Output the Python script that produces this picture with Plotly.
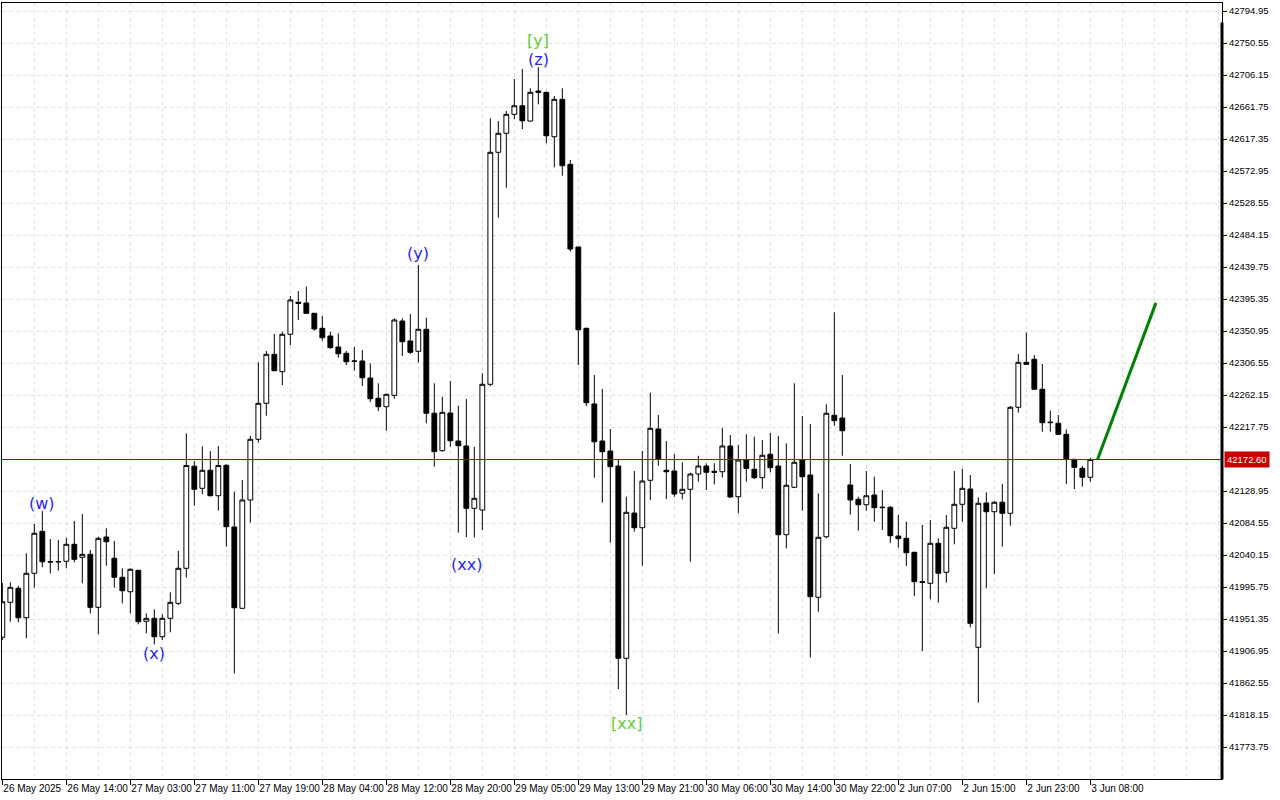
import plotly.graph_objects as go

# ---- data (H1 candles, index 0..136) ----
opens = [41926.0, 41974.5, 41993.9, 41953.1, 42014.8, 42073.0, 42030.8, 42030.5, 42031.4, 42055.0,
         42037.0, 42041.1, 41967.6, 42065.1, 42035.6, 42009.2, 41989.2, 42018.9, 41948.2, 41952.3,
         41926.8, 41952.3, 41973.1, 42021.7, 42163.4, 42132.7, 42157.7, 42122.4, 42164.6, 42079.0,
         41966.2, 42116.5, 42200.7, 42250.6, 42318.6, 42294.5, 42346.4, 42390.8, 42389.8, 42375.5,
         42354.7, 42344.0, 42328.7, 42320.0, 42308.8, 42309.3, 42285.7, 42257.6, 42245.9, 42261.7,
         42364.8, 42337.1, 42322.8, 42353.3, 42236.8, 42184.9, 42237.2, 42198.3, 42191.4, 42104.9,
         42102.6, 42277.0, 42598.9, 42625.3, 42651.6, 42663.5, 42642.3, 42683.9, 42682.1, 42620.5,
         42672.4, 42582.2, 42467.5, 42354.7, 42249.7, 42198.3, 42184.4, 42163.6, 41896.8, 42098.4,
         42078.0, 42143.8, 42215.0, 42157.7, 42156.7, 42125.8, 42131.3, 42152.5, 42163.6, 42156.3,
         42155.7, 42191.4, 42121.0, 42172.0, 42159.1, 42147.4, 42179.9, 42163.6, 42068.3, 42134.1,
         42172.0, 42151.1, 41981.5, 42065.5, 42234.0, 42230.2, 42137.3, 42117.4, 42109.9, 42123.4,
         42105.8, 42106.3, 42066.5, 42063.3, 42043.9, 42003.1, 42000.9, 42056.4, 42016.1, 42077.2,
         42110.5, 42131.7, 41912.1, 42112.3, 42100.2, 42113.3, 42098.0, 42245.1, 42307.5, 42311.7,
         42270.1, 42223.7, 42222.9, 42207.6, 42172.9, 42160.4, 42148.0]
highs = [42001.3, 42002.3, 41997.5, 42042.5, 42083.2, 42101.2, 42062.3, 42061.0, 42064.1, 42087.3,
         42097.0, 42047.1, 42065.5, 42077.2, 42059.6, 42021.7, 42021.7, 42019.5, 41959.3, 41964.8,
         41957.9, 41988.4, 42045.7, 42209.0, 42170.2, 42191.0, 42184.4, 42191.4, 42166.0, 42128.0,
         42144.2, 42205.3, 42307.5, 42323.2, 42346.8, 42350.0, 42399.5, 42406.4, 42412.4, 42376.0,
         42371.8, 42350.0, 42347.8, 42323.2, 42328.7, 42324.6, 42306.1, 42278.4, 42264.0, 42368.6,
         42368.6, 42374.5, 42442.5, 42369.4, 42278.4, 42259.8, 42281.6, 42247.3, 42256.6, 42190.0,
         42292.3, 42646.1, 42642.3, 42656.2, 42700.6, 42714.5, 42687.7, 42716.8, 42683.0, 42677.0,
         42687.7, 42588.2, 42468.0, 42355.5, 42289.9, 42270.5, 42215.0, 42172.9, 42121.0, 42156.7,
         42184.4, 42265.3, 42234.4, 42198.3, 42180.3, 42168.8, 42154.3, 42177.9, 42167.4, 42167.4,
         42216.8, 42206.6, 42192.8, 42207.6, 42204.3, 42199.7, 42209.4, 42205.3, 42195.1, 42278.4,
         42233.0, 42221.9, 42125.8, 42249.2, 42376.9, 42289.9, 42166.4, 42121.0, 42156.7, 42148.8,
         42130.3, 42108.1, 42095.6, 42086.3, 42044.5, 42081.8, 42088.7, 42063.3, 42095.6, 42156.7,
         42159.5, 42151.1, 42120.2, 42127.1, 42115.1, 42138.7, 42246.9, 42319.0, 42348.6, 42317.6,
         42305.2, 42240.4, 42234.4, 42214.6, 42173.5, 42163.6, 42175.1]
lows = [41922.2, 41947.6, 41946.8, 41924.6, 41994.8, 42023.1, 42014.8, 42018.4, 42021.7, 42030.0,
        42000.9, 41959.3, 41930.1, 42025.3, 41994.8, 41973.1, 41959.3, 41944.0, 41931.5, 41916.2,
        41922.2, 41932.9, 41970.8, 42008.9, 42108.5, 42124.4, 42121.5, 42101.6, 42051.7, 41876.0,
        41965.5, 42085.0, 42196.0, 42233.4, 42295.0, 42276.0, 42331.5, 42366.2, 42374.8, 42351.4,
        42337.5, 42326.4, 42313.9, 42303.8, 42295.9, 42274.6, 42252.4, 42239.9, 42212.6, 42257.0,
        42316.3, 42319.0, 42307.0, 42222.9, 42162.7, 42183.5, 42190.4, 42071.1, 42065.1, 42064.7,
        42074.8, 42274.6, 42508.1, 42549.8, 42644.7, 42631.2, 42641.5, 42665.5, 42611.4, 42578.1,
        42566.4, 42461.0, 42303.8, 42246.9, 42147.4, 42112.7, 42057.2, 41854.2, 41818.1, 42072.5,
        42025.3, 42116.5, 42164.0, 42117.8, 42121.0, 42117.4, 42030.8, 42141.8, 42130.3, 42138.2,
        42147.4, 42119.6, 42098.0, 42141.8, 42145.6, 42132.1, 42154.9, 41931.5, 42049.4, 42133.0,
        42101.6, 41898.2, 41961.5, 42063.3, 42219.5, 42177.9, 42096.1, 42073.9, 42101.6, 42086.3,
        42074.8, 42057.2, 42050.3, 42024.9, 41983.3, 41906.9, 41978.7, 41974.0, 42001.7, 42055.0,
        42086.3, 41939.8, 41835.2, 41993.9, 42013.8, 42051.7, 42080.8, 42237.6, 42304.0, 42269.5,
        42211.2, 42211.2, 42207.0, 42138.7, 42131.7, 42134.9, 42141.8]
closes = [41975.3, 41995.3, 41953.1, 42014.8, 42070.3, 42030.8, 42030.5, 42031.0, 42055.0, 42034.2,
          42041.1, 41967.6, 42063.3, 42058.6, 42009.2, 41990.6, 42020.3, 41947.6, 41952.3, 41926.8,
          41952.3, 41974.5, 42021.7, 42164.3, 42131.3, 42157.7, 42122.4, 42164.3, 42079.4, 41967.0,
          42116.5, 42200.7, 42250.6, 42318.6, 42295.9, 42346.4, 42394.0, 42389.4, 42375.5, 42353.7,
          42341.6, 42327.8, 42319.4, 42308.3, 42309.3, 42286.1, 42257.0, 42245.9, 42263.1, 42366.2,
          42336.1, 42321.4, 42353.3, 42236.8, 42183.5, 42238.1, 42198.7, 42191.8, 42104.9, 42118.8,
          42277.0, 42598.9, 42625.3, 42651.6, 42663.5, 42642.7, 42682.1, 42682.1, 42621.9, 42672.4,
          42580.3, 42464.7, 42352.7, 42251.5, 42197.3, 42183.5, 42162.7, 41896.8, 42099.4, 42078.0,
          42142.8, 42215.9, 42172.9, 42155.7, 42124.8, 42131.3, 42152.5, 42163.6, 42154.9, 42154.9,
          42191.4, 42120.6, 42172.0, 42160.4, 42147.4, 42178.5, 42161.3, 42068.3, 42136.9, 42168.8,
          42148.8, 41982.3, 42064.7, 42236.8, 42226.5, 42212.6, 42116.5, 42109.9, 42122.4, 42105.8,
          42106.3, 42066.9, 42062.8, 42043.3, 42003.1, 42002.3, 42056.4, 42014.8, 42078.6, 42110.5,
          42132.7, 41945.4, 42111.9, 42100.2, 42113.3, 42098.0, 42245.1, 42307.5, 42304.7, 42270.1,
          42223.7, 42224.3, 42207.6, 42172.9, 42161.8, 42148.0, 42172.6]

x_tick_idx = [0, 8, 16, 24, 32, 40, 48, 56, 64, 72, 80, 88, 96, 104, 112, 120, 128, 136]
x_tick_labels = ["26 May 2025", "26 May 14:00", "27 May 03:00", "27 May 11:00", "27 May 19:00",
                 "28 May 04:00", "28 May 12:00", "28 May 20:00", "29 May 05:00", "29 May 13:00",
                 "29 May 21:00", "30 May 06:00", "30 May 14:00", "30 May 22:00", "2 Jun 07:00",
                 "2 Jun 15:00", "2 Jun 23:00", "3 Jun 08:00"]
y_tick_vals = [41773.75, 41818.15, 41862.55, 41906.95, 41951.35, 41995.75, 42040.15, 42084.55,
               42128.95, 42217.75, 42262.15, 42306.55, 42350.95, 42395.35, 42439.75, 42484.15,
               42528.55, 42572.95, 42617.35, 42661.75, 42706.15, 42750.55, 42794.95]

current_price = 42172.60

wave_labels = ["(w)", "(x)", "(y)", "(xx)", "(z)", "[y]", "[xx]"]
wave_idx = [5, 19, 52, 58, 67, 67, 78]
wave_price = [42112.3, 41902.8, 42457.8, 42026.3, 42728.3, 42754.7, 41807.0]
wave_colors = ["#1f1fff", "#1f1fff", "#1f1fff", "#1f1fff", "#1f1fff", "#66cc33", "#66cc33"]

forecast_idx = [136.9, 144.2]
forecast_price = [42172.6, 42390.0]

idx = list(range(len(opens)))

fig = go.Figure()
fig.add_trace(go.Candlestick(
    x=idx, open=opens, high=highs, low=lows, close=closes,
    increasing=dict(line=dict(color="black", width=1), fillcolor="white"),
    decreasing=dict(line=dict(color="black", width=1), fillcolor="black"),
    whiskerwidth=0, showlegend=False, hoverinfo="skip",
))
fig.add_trace(go.Scatter(
    x=forecast_idx, y=forecast_price, mode="lines",
    line=dict(color="#008000", width=3), showlegend=False, hoverinfo="skip",
))

grid_col = "#e2e2e2"
fig.update_layout(
    width=1280, height=800,
    margin=dict(l=2, r=58, t=3, b=21, autoexpand=False),
    paper_bgcolor="white", plot_bgcolor="white",
    boxgap=0.4, boxgroupgap=0,
    font=dict(family="Liberation Sans, Arial, sans-serif", size=10, color="black"),
    showlegend=False,
)
fig.update_xaxes(
    range=[-0.04, 152.46],
    rangeslider=dict(visible=False),
    tickmode="array", tickvals=x_tick_idx, ticktext=x_tick_labels,
    ticks="outside", ticklen=5, tickcolor="black", tickwidth=1,
    ticklabelposition="outside right", tickangle=0,
    tickfont=dict(size=10),
    showgrid=True, gridcolor=grid_col, griddash="4px,3px", gridwidth=1,
    minor=dict(tickmode="linear", tick0=0, dtick=4, showgrid=True, gridcolor=grid_col,
               griddash="4px,3px", gridwidth=1, ticks=""),
    showline=True, linecolor="black", linewidth=1, mirror=True,
    zeroline=False, automargin=False,
)
fig.update_yaxes(
    side="right",
    range=[41729.35, 42806.05],
    tickmode="array", tickvals=y_tick_vals,
    ticktext=[f"{v:.2f}" for v in y_tick_vals],
    ticks="outside", ticklen=4, tickcolor="black",
    tickfont=dict(size=9.5),
    showgrid=True, gridcolor=grid_col, griddash="4px,3px", gridwidth=1,
    showline=True, linecolor="black", linewidth=1, mirror=True,
    zeroline=False, automargin=False,
)

# current price line and label
fig.add_shape(type="line", xref="paper", x0=0, x1=1, yref="y", y0=current_price, y1=current_price,
              line=dict(color="#b00000", width=1), layer="above")
fig.add_shape(type="line", xref="paper", x0=1, x1=1, yref="paper", y0=0, y1=0.975,
              line=dict(color="black", width=3))
fig.add_annotation(xref="paper", x=1, xanchor="left", xshift=2, y=current_price, yref="y",
                   text=f"{current_price:.2f}", showarrow=False, bgcolor="#c80000",
                   font=dict(color="white", size=9.5), borderpad=2)

for lab, i, p, c in zip(wave_labels, wave_idx, wave_price, wave_colors):
    fig.add_annotation(x=i, y=p, text=lab, showarrow=False,
                       font=dict(family="DejaVu Sans", size=16, color=c))

fig.write_html("out.html",
               config={"displayModeBar": False},
               post_script="document.body.style.margin='0';document.body.style.overflow='hidden';")
